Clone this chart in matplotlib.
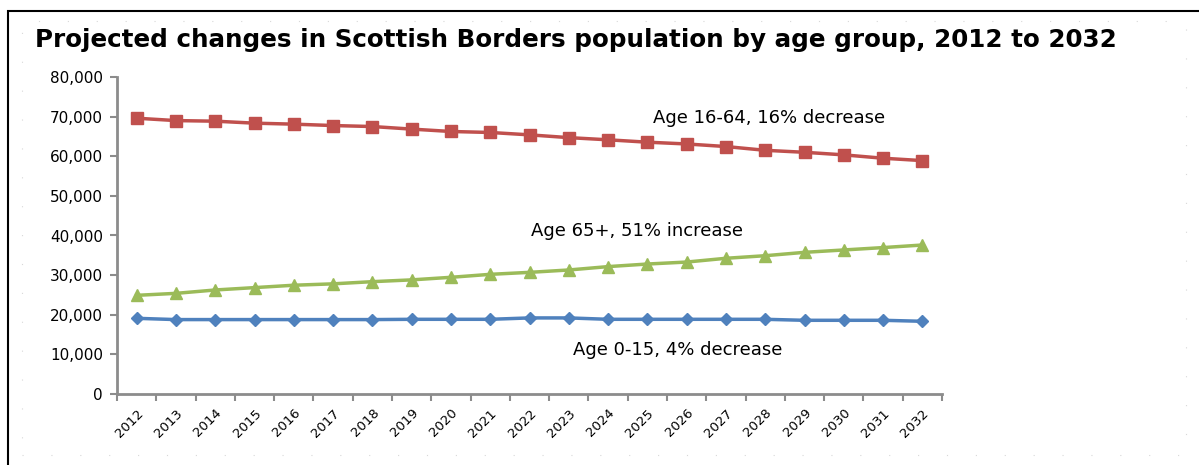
import matplotlib
matplotlib.use("Agg")
import matplotlib.pyplot as plt
from matplotlib.patches import Rectangle
from matplotlib.ticker import FuncFormatter

years = [str(y) for y in range(2012, 2033)]
age_16_64 = [69600, 69000, 68850, 68350, 68100, 67750, 67500, 66850, 66250, 66000,
             65400, 64700, 64150, 63550, 63100, 62450, 61500, 61000, 60350, 59500, 58900]
age_65_plus = [24900, 25400, 26250, 26850, 27450, 27800, 28350, 28800, 29450, 30200,
               30700, 31300, 32150, 32800, 33300, 34250, 34900, 35750, 36350, 36950, 37600]
age_0_15 = [19100, 18780, 18780, 18780, 18780, 18780, 18780, 18850, 18850, 18850,
            19200, 19200, 18850, 18850, 18850, 18850, 18850, 18600, 18600, 18600, 18350]
title = "Projected changes in Scottish Borders population by age group, 2012 to 2032"
labels = ["Age 16-64, 16% decrease", "Age 65+, 51% increase", "Age 0-15, 4% decrease"]

plt.rcParams['font.family'] = ['DejaVu Sans']

W, H = 1199, 465
fig = plt.figure(figsize=(W / 100, H / 100), dpi=100)

# outer frame
fig.add_artist(Rectangle((8 / W, -0.1), 1.1, 1 - 11 / H + 0.1, transform=fig.transFigure,
                         fill=False, edgecolor='black', linewidth=1.5))
fig.add_artist(Rectangle((22 / W, 1 - 455 / H), (1186 - 22) / W, (455 - 21) / H,
                         transform=fig.transFigure, fill=False, edgecolor='#d8d8d8',
                         linewidth=0.8, linestyle=(0, (1, 25))))

ax = fig.add_axes([117 / W, 1 - 394 / H, (942 - 117) / W, (394 - 77) / H])
x = list(range(len(years)))
ax.plot(x, age_16_64, color='#C0504D', marker='s', markersize=8, linewidth=2.5)
ax.plot(x, age_65_plus, color='#9BBB59', marker='^', markersize=9, linewidth=2.5)
ax.plot(x, age_0_15, color='#4F81BD', marker='D', markersize=6.5, linewidth=2.5)

ax.set_xlim(-0.5, len(years) - 0.5)
ax.set_ylim(0, 80000)
ax.set_yticks(range(0, 80001, 10000))
ax.yaxis.set_major_formatter(FuncFormatter(lambda v, p: f"{int(v):,}"))
ax.set_xticks(x)
ax.set_xticklabels(years, rotation=45, ha='right', va='top', rotation_mode='anchor', fontsize=9.5)
ax.set_xticks([i - 0.5 for i in range(len(years) + 1)], minor=True)
ax.tick_params(axis='x', which='major', length=0, pad=9)
ax.tick_params(axis='x', which='minor', length=5, color='#8c8c8c', width=1.5)
ax.tick_params(axis='y', length=5, color='#8c8c8c', width=1.5, labelsize=11, pad=5)
for s in ['top', 'right']:
    ax.spines[s].set_visible(False)
for s in ['left', 'bottom']:
    ax.spines[s].set_color('#8c8c8c')
    ax.spines[s].set_linewidth(2)

fig.text(769 / W, 1 - 118 / H, labels[0], fontsize=13, ha='center', va='center')
fig.text(637 / W, 1 - 231 / H, labels[1], fontsize=13, ha='center', va='center')
fig.text(678 / W, 1 - 350 / H, labels[2], fontsize=13, ha='center', va='center')

fig.text(35 / W, 1 - 40 / H, title, fontsize=17.7, fontweight='bold', ha='left', va='center')

fig.savefig("out.png", dpi=100)
